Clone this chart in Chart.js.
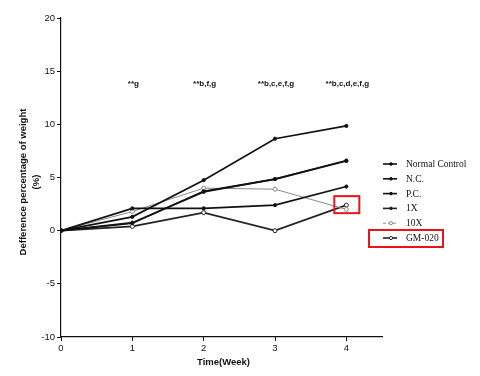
<!DOCTYPE html>
<html>
<head>
<meta charset="utf-8">
<script src="https://cdn.jsdelivr.net/npm/chart.js@4"></script>
<style>
  html, body { margin: 0; padding: 0; background: #fff; }
  #wrap { width: 480px; height: 376px; }
</style>
</head>
<body>
<div id="wrap"><canvas id="chart" width="480" height="376"></canvas></div>
<script>
// datos
var weeks = [0, 1, 2, 3, 4];
var normalControl = [0, 2.1, 2.1, 2.4, 4.15];
var nc = [0, 1.3, 4.75, 8.65, 9.85];
var pc = [0, 0.7, 3.7, 4.85, 6.55];
var x1 = [0, 0.75, 3.65, 4.85, 6.6];
var x10 = [0, 1.8, 4.0, 3.9, 2.0];
var gm020 = [0, 0.4, 1.7, 0, 2.4];
var yTicks = [20, 15, 10, 5, 0, -5, -10];
var xTicks = [0, 1, 2, 3, 4];
var notes = ['**g', '**b,f,g', '**b,c,e,f,g', '**b,c,d,e,f,g'];
var noteWeeks = [1, 2, 3, 4];
var noteY = 13.8;

function pts(vals) {
    return weeks.map(function (w, i) { return { x: w, y: vals[i] }; });
}

var series = [
    { label: 'Normal Control', data: normalControl, color: '#111', dash: [], open: false },
    { label: 'N.C.', data: nc, color: '#111', dash: [], open: false },
    { label: 'P.C.', data: pc, color: '#111', dash: [], open: false },
    { label: '1X', data: x1, color: '#222', dash: [], open: false },
    { label: '10X', data: x10, color: '#888', dash: [3, 2], open: true },
    { label: 'GM-020', data: gm020, color: '#222', dash: [], open: true }
];

var datasets = series.map(function (s) {
    return {
        label: s.label,
        data: pts(s.data),
        borderColor: s.color,
        borderWidth: s.label === '10X' ? 1 : 1.7,
        pointRadius: s.open ? 2 : 1.6,
        pointBackgroundColor: s.open ? '#fff' : s.color,
        pointBorderColor: s.color,
        pointBorderWidth: 1,
        tension: 0,
        fill: false
    };
});

var extras = {
    id: 'extras',
    afterDraw: function (chart) {
        var ctx = chart.ctx;
        var xs = chart.scales.x, ys = chart.scales.y;
        ctx.save();
        // anotaciones
        ctx.fillStyle = '#111';
        ctx.font = 'bold 8px "Liberation Sans", Arial, sans-serif';
        ctx.textAlign = 'center';
        ctx.textBaseline = 'middle';
        notes.forEach(function (t, i) {
            ctx.fillText(t, xs.getPixelForValue(noteWeeks[i]) + 1, ys.getPixelForValue(noteY));
        });
        // titulos de ejes
        ctx.font = 'bold 9.5px "Liberation Sans", Arial, sans-serif';
        ctx.fillText('Time(Week)', (xs.left + xs.right) / 2 + 2, 362);
        ctx.save();
        ctx.translate(23, 182);
        ctx.rotate(-Math.PI / 2);
        ctx.fillText('Defference percentage of weight', 0, 0);
        ctx.fillText('(%)', 0, 13);
        ctx.restore();
        // leyenda
        var lx = 383, ly = 164, step = 14.8;
        ctx.font = '9.5px "Liberation Serif", "Times New Roman", serif';
        ctx.textAlign = 'left';
        series.forEach(function (s, i) {
            var y = ly + i * step;
            ctx.strokeStyle = s.color;
            ctx.lineWidth = s.label === '10X' ? 1 : 1.6;
            ctx.setLineDash(s.dash);
            ctx.beginPath();
            ctx.moveTo(lx, y);
            ctx.lineTo(lx + 14, y);
            ctx.stroke();
            ctx.setLineDash([]);
            ctx.lineWidth = 1;
            ctx.beginPath();
            ctx.arc(lx + 8, y, s.open ? 1.6 : 1.3, 0, Math.PI * 2);
            ctx.fillStyle = s.open ? '#fff' : s.color;
            ctx.fill();
            ctx.stroke();
            ctx.fillStyle = '#111';
            ctx.fillText(s.label, lx + 23, y + 0.5);
        });
        // recuadros rojos
        ctx.strokeStyle = '#e8141c';
        ctx.lineWidth = 2;
        var gy = ly + 5 * step;
        ctx.strokeRect(369, gy - 8, 74, 17);
        var px = xs.getPixelForValue(4), py = ys.getPixelForValue(2.4);
        ctx.strokeRect(px - 12, py - 9, 25, 17);
        ctx.restore();
    }
};

var ctx = document.getElementById('chart').getContext('2d');
var chart = new Chart(ctx, {
    type: 'line',
    data: { datasets: datasets },
    options: {
        responsive: false,
        animation: false,
        layout: { padding: { left: 0, right: 98, top: 18, bottom: 0 } },
        plugins: { legend: { display: false }, tooltip: { enabled: false } },
        scales: {
            x: {
                type: 'linear',
                min: 0,
                max: 4.5,
                afterBuildTicks: function (s) {
                    s.ticks = xTicks.map(function (v) { return { value: v }; });
                },
                afterFit: function (s) { s.height = 39; },
                grid: { drawOnChartArea: false, tickLength: 4, color: '#111' },
                border: { color: '#111', width: 1.2 },
                ticks: { color: '#111', font: { size: 9.5, family: '"Liberation Sans", Arial, sans-serif' }, padding: 2 }
            },
            y: {
                type: 'linear',
                min: -10,
                max: 20,
                afterBuildTicks: function (s) {
                    s.ticks = yTicks.map(function (v) { return { value: v }; });
                },
                afterFit: function (s) { s.width = 61; },
                grid: { drawOnChartArea: false, tickLength: 4, color: '#111' },
                border: { color: '#111', width: 1.2 },
                ticks: { color: '#111', font: { size: 9.5, family: '"Liberation Sans", Arial, sans-serif' }, padding: 2 }
            }
        }
    },
    plugins: [extras]
});
</script>
</body>
</html>
